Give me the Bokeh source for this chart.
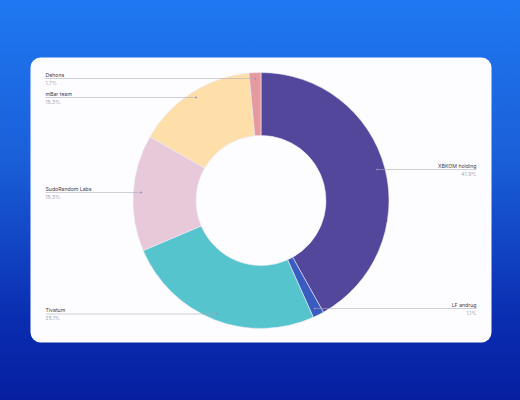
import math
from bokeh.core.properties import value
from bokeh.plotting import figure
from bokeh.models import BoxAnnotation, ColumnDataSource, GlobalInlineStyleSheet, Range1d
from bokeh.embed import file_html
from bokeh.resources import INLINE

companies = ["XBKOM holding", "LF andrug", "Tivatum", "SudoRandom Labs", "mBar team", "Dehons"]
shares = [41.9, 1.4, 25.3, 14.7, 15.2, 1.5]
share_labels = ["41.9%", "1.1%", "25.1%", "15.3%", "15.3%", "1.7%"]
colors = ["#52479b", "#3a5bbf", "#56c4cc", "#e8c9da", "#fedfa9", "#e59a9f"]
leader_y = [169, 308, 313.5, 192, 97, 78]  # screen y of each leader line
on_right = [True, True, False, False, False, False]

W, H = 520, 400
CX, CY = 260.5, 200
R_OUT, R_IN, R_LEAD = 128, 65, 120
LEFT_X, RIGHT_X = 45, 476


def sy(y):
    return H - y


page_css = GlobalInlineStyleSheet(css="""
html { height: 100%; min-height: 400px; background: linear-gradient(180deg, #1f78f2 0%, #1a5fd8 40%, #0a2db0 80%, #071ea0 100%); }
body { background: transparent; overflow: hidden; }
""")

p = figure(width=W, height=H, output_backend="svg", toolbar_location=None,
           x_range=Range1d(0, W), y_range=Range1d(0, H),
           min_border=0, outline_line_color=None,
           background_fill_color=None, border_fill_color=None)
p.stylesheets = [page_css]
p.axis.visible = False
p.grid.visible = False

p.add_layout(BoxAnnotation(left=30, right=491, bottom=sy(342), top=sy(57), border_radius=10,
                           fill_color="#fdfdff", fill_alpha=1, line_color=None, level="underlay"))

total = sum(shares)
cum = 0.0
starts, ends, mids = [], [], []
for s in shares:
    a0 = cum / total * 2 * math.pi
    cum += s
    a1 = cum / total * 2 * math.pi
    starts.append(math.pi / 2 - a0)
    ends.append(math.pi / 2 - a1)
    mids.append((a0 + a1) / 2)

src = ColumnDataSource(dict(start=starts, end=ends, color=colors))
p.annular_wedge(x=CX, y=sy(CY), inner_radius=R_IN, outer_radius=R_OUT,
                start_angle="end", end_angle="start", color="color", source=src,
                line_color="#e9e9f7", line_width=0.6)

x0s, x1s, ys = [], [], []
for m, ly, r in zip(mids, leader_y, on_right):
    ax = CX + R_LEAD * math.sin(m)
    ys.append(sy(ly))
    x0s.append(ax)
    x1s.append(RIGHT_X if r else LEFT_X)
p.segment(x0=x0s, y0=ys, x1=x1s, y1=ys, line_color="#a9abb8", line_alpha=0.7, line_width=0.8)
p.scatter(x=x0s, y=ys, size=1.8, color="#8f90c4", line_color=None)

for name, lab, x, y, r in zip(companies, share_labels, x1s, ys, on_right):
    align = "right" if r else "left"
    p.text(x=[x], y=[y + 1], text=[name], text_font=value("Inter"), text_font_size="5.2px",
           text_color="#3f404c", text_align=align, text_baseline="bottom")
    p.text(x=[x], y=[y - 1], text=[lab], text_font=value("Inter"), text_font_size="5.2px",
           text_color="#a6a8b2", text_align=align, text_baseline="top")

open("out.html", "w").write(file_html(p, INLINE))
